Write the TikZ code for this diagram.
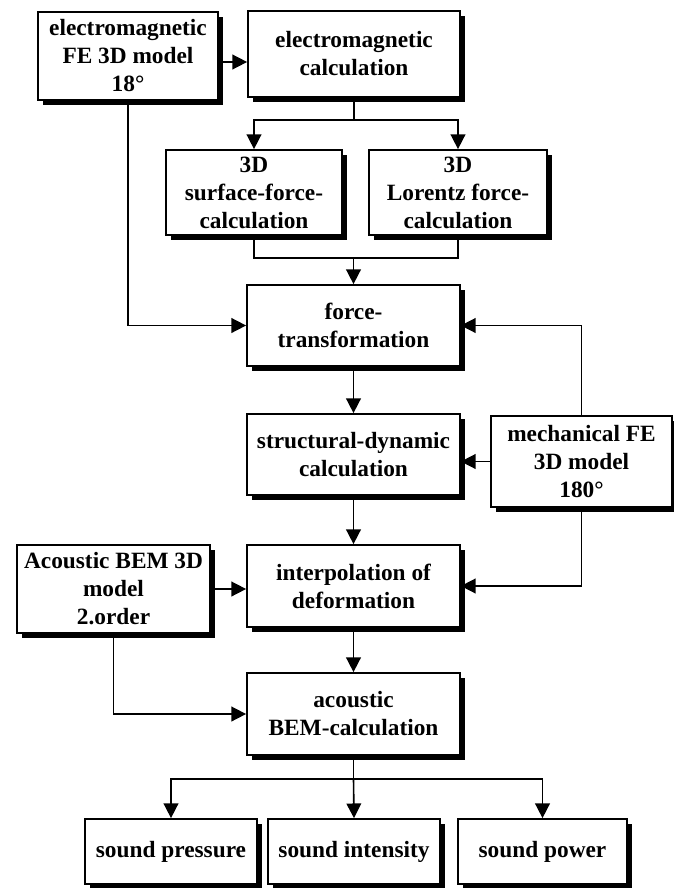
\documentclass[tikz,border=0pt]{standalone}
\usepackage{fontspec}
\setmainfont{Liberation Serif}
\usetikzlibrary{arrows.meta,shadows}
\tikzset{
  box/.style={draw, line width=1.3pt, fill=white, inner sep=0pt, align=center,
    font=\bfseries\fontsize{17.5}{21}\selectfont,
    drop shadow={shadow xshift=3.8pt, shadow yshift=-3.8pt, fill=black, opacity=1}},
  conn/.style={line width=1.2pt},
  arr/.style={line width=1.2pt, -{Triangle[length=11pt,width=11pt]}}
}
\begin{document}
\begin{tikzpicture}[x=0.75pt,y=-0.75pt]
\useasboundingbox (0,0) rectangle (674,888);
\node[box, minimum width=135pt, minimum height=66pt] (emfe) at (128,56) {electromagnetic\\FE 3D model\\18°};
\node[box, minimum width=159pt, minimum height=64.5pt] (emcalc) at (354,54) {electromagnetic\\calculation};
\node[box, minimum width=132pt, minimum height=63.75pt] (surf) at (254,192.5) {3D\\surface-force-\\calculation};
\node[box, minimum width=133.5pt, minimum height=63.75pt] (lor) at (458,192.5) {3D\\Lorentz force-\\calculation};
\node[box, minimum width=159.75pt, minimum height=60.75pt] (force) at (353.5,325.5) {force-\\transformation};
\node[box, minimum width=159.75pt, minimum height=60.75pt] (struct) at (353.5,454.5) {structural-dynamic\\calculation};
\node[box, minimum width=135.75pt, minimum height=68.25pt] (mech) at (581.5,461.5) {mechanical FE\\3D model\\180°};
\node[box, minimum width=144.75pt, minimum height=66pt] (acbem) at (113.5,589) {Acoustic BEM 3D\\model\\2.order};
\node[box, minimum width=159.75pt, minimum height=61.5pt] (interp) at (353.5,586) {interpolation of\\deformation};
\node[box, minimum width=159.75pt, minimum height=61.5pt] (acalc) at (353.5,714) {acoustic\\BEM-calculation};
\node[box, minimum width=129pt, minimum height=48.75pt] (sp) at (171,851.5) {sound pressure};
\node[box, minimum width=129pt, minimum height=48.75pt] (si) at (354,851.5) {sound intensity};
\node[box, minimum width=126.75pt, minimum height=48.75pt] (spow) at (542.5,851.5) {sound power};

\coordinate (b1) at (354,120);
\coordinate (m1) at (353.5,258);
\coordinate (b2) at (353.5,779);

\draw[arr] ([yshift=-4.5pt]emfe.east) -- ([yshift=-4.5pt]emfe.east -| emcalc.west);
\draw[conn] (emcalc.south) -- (b1);
\draw[arr] (b1) -| (surf.north);
\draw[arr] (b1) -| (lor.north);
\draw[conn] (surf.south) |- (m1);
\draw[conn] (lor.south) |- (m1);
\draw[arr] (m1) -- (force.north);
\draw[arr] (emfe.south) |- (force.west);
\draw[arr] (mech.north) |- (force.east);
\draw[arr] (force.south) -- (struct.north);
\draw[arr] (mech.west) -- (mech.west -| struct.east);
\draw[arr] (struct.south) -- (interp.north);
\draw[arr] (mech.south) |- (interp.east);
\draw[arr] (acbem.east) -- (acbem.east -| interp.west);
\draw[arr] (interp.south) -- (acalc.north);
\draw[arr] (acbem.south) |- (acalc.west);
\draw[conn] (acalc.south) -- (b2);
\draw[arr] (b2) -| (sp.north);
\draw[arr] (b2) -- (si.north);
\draw[arr] (b2) -| (spow.north);
\end{tikzpicture}
\end{document}
